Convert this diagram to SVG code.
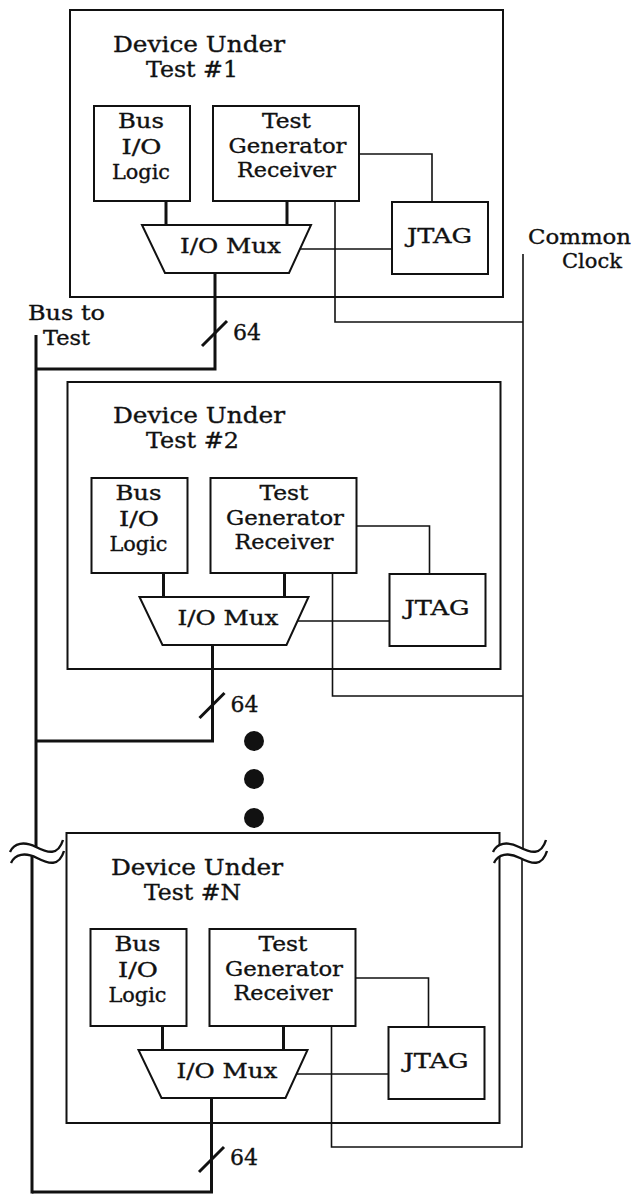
<svg xmlns="http://www.w3.org/2000/svg" width="633" height="1195" viewBox="0 0 633 1195">
<style>
.box{fill:none;stroke:#111;stroke-width:2}
.mux{fill:#fff;stroke:#111;stroke-width:2}
.thin{fill:none;stroke:#111;stroke-width:1.6}
.thick{fill:none;stroke:#111;stroke-width:3}
.wave{fill:none;stroke:#111;stroke-width:2.4}
.gap{fill:#fff;stroke:none}
text{font-family:"DejaVu Serif","Liberation Serif",serif;fill:#111;stroke:#111;stroke-width:0.35}
.ttl{font-size:21.5px}
.lb{font-size:20px}
.out{font-size:20.5px}
.n{font-size:22px}
</style>
<rect width="633" height="1195" fill="#fff"/>

<!-- DUT 1 -->
<g id="dut1">
<rect class="box" x="70" y="10" width="433" height="287"/>
<text class="ttl" x="113" y="52" textLength="172" lengthAdjust="spacingAndGlyphs">Device Under</text>
<text class="ttl" x="146" y="77" textLength="92" lengthAdjust="spacingAndGlyphs">Test #1</text>
<g id="dut1-bus">
<rect class="box" x="94" y="106" width="96" height="95"/>
<text class="lb" x="118" y="128" textLength="46" lengthAdjust="spacingAndGlyphs">Bus</text>
<text class="lb" x="121.5" y="154" textLength="40" lengthAdjust="spacingAndGlyphs">I/O</text>
<text class="lb" x="112" y="179" textLength="58" lengthAdjust="spacingAndGlyphs">Logic</text>
</g>
<g id="dut1-tg">
<rect class="box" x="213" y="106" width="146" height="95"/>
<text class="lb" x="262" y="128" textLength="49" lengthAdjust="spacingAndGlyphs">Test</text>
<text class="lb" x="228.5" y="153" textLength="118" lengthAdjust="spacingAndGlyphs">Generator</text>
<text class="lb" x="237" y="177" textLength="99" lengthAdjust="spacingAndGlyphs">Receiver</text>
</g>
<g id="dut1-jtag">
<rect class="box" x="392" y="202" width="96" height="72"/>
<text class="lb" x="407" y="243" textLength="65" lengthAdjust="spacingAndGlyphs">JTAG</text>
</g>
<g id="dut1-mux">
<polygon class="mux" points="142,225 311,225 289,273 165,273"/>
<text class="lb" x="180" y="253" textLength="101" lengthAdjust="spacingAndGlyphs">I/O Mux</text>
</g>
</g>

<!-- DUT 2 -->
<g id="dut2" transform="translate(-2.5,372)">
<rect class="box" x="70" y="10" width="433" height="287"/>
<text class="ttl" x="115.5" y="51" textLength="172" lengthAdjust="spacingAndGlyphs">Device Under</text>
<text class="ttl" x="148.5" y="76" textLength="93" lengthAdjust="spacingAndGlyphs">Test #2</text>
<g id="dut2-bus">
<rect class="box" x="94" y="106" width="96" height="95"/>
<text class="lb" x="118" y="128" textLength="46" lengthAdjust="spacingAndGlyphs">Bus</text>
<text class="lb" x="121.5" y="154" textLength="40" lengthAdjust="spacingAndGlyphs">I/O</text>
<text class="lb" x="112" y="179" textLength="58" lengthAdjust="spacingAndGlyphs">Logic</text>
</g>
<g id="dut2-tg">
<rect class="box" x="213" y="106" width="146" height="95"/>
<text class="lb" x="262" y="128" textLength="49" lengthAdjust="spacingAndGlyphs">Test</text>
<text class="lb" x="228.5" y="153" textLength="118" lengthAdjust="spacingAndGlyphs">Generator</text>
<text class="lb" x="237" y="177" textLength="99" lengthAdjust="spacingAndGlyphs">Receiver</text>
</g>
<g id="dut2-jtag">
<rect class="box" x="392" y="202" width="96" height="72"/>
<text class="lb" x="407" y="243" textLength="65" lengthAdjust="spacingAndGlyphs">JTAG</text>
</g>
<g id="dut2-mux">
<polygon class="mux" points="142,225 311,225 289,273 165,273"/>
<text class="lb" x="180" y="253" textLength="101" lengthAdjust="spacingAndGlyphs">I/O Mux</text>
</g>
</g>

<!-- DUT N -->
<g id="dutN" transform="translate(-3.5,823)">
<rect class="box" x="70" y="10" width="433" height="290"/>
<text class="ttl" x="114.5" y="52" textLength="172" lengthAdjust="spacingAndGlyphs">Device Under</text>
<text class="ttl" x="147.5" y="77" textLength="97" lengthAdjust="spacingAndGlyphs">Test #N</text>
<g id="dutN-bus">
<rect class="box" x="94" y="106" width="96" height="97"/>
<text class="lb" x="118" y="128" textLength="46" lengthAdjust="spacingAndGlyphs">Bus</text>
<text class="lb" x="121.5" y="154" textLength="40" lengthAdjust="spacingAndGlyphs">I/O</text>
<text class="lb" x="112" y="179" textLength="58" lengthAdjust="spacingAndGlyphs">Logic</text>
</g>
<g id="dutN-tg">
<rect class="box" x="213" y="106" width="146" height="97"/>
<text class="lb" x="262" y="128" textLength="49" lengthAdjust="spacingAndGlyphs">Test</text>
<text class="lb" x="228.5" y="153" textLength="118" lengthAdjust="spacingAndGlyphs">Generator</text>
<text class="lb" x="237" y="177" textLength="99" lengthAdjust="spacingAndGlyphs">Receiver</text>
</g>
<g id="dutN-jtag">
<rect class="box" x="392" y="204" width="96" height="72"/>
<text class="lb" x="407" y="245" textLength="65" lengthAdjust="spacingAndGlyphs">JTAG</text>
</g>
<g id="dutN-mux">
<polygon class="mux" points="142,227 311,227 289,275 165,275"/>
<text class="lb" x="180" y="255" textLength="101" lengthAdjust="spacingAndGlyphs">I/O Mux</text>
</g>
</g>

<!-- labels -->
<g id="bus-label">
<text class="out" x="28" y="320" textLength="77" lengthAdjust="spacingAndGlyphs">Bus to</text>
<text class="out" x="43" y="345" textLength="47" lengthAdjust="spacingAndGlyphs">Test</text>
</g>
<g id="clock-label">
<text class="out" x="528" y="244" textLength="103" lengthAdjust="spacingAndGlyphs">Common</text>
<text class="out" x="562" y="268" textLength="60" lengthAdjust="spacingAndGlyphs">Clock</text>
</g>

<g id="connectors">
<!-- DUT1 -->
<line class="thick" x1="166" y1="201" x2="166" y2="225"/>
<line class="thick" x1="287" y1="201" x2="287" y2="225"/>
<polyline class="thin" points="359,154 432,154 432,202"/>
<line class="thin" x1="300" y1="249" x2="392" y2="249"/>
<polyline class="thin" points="335,201 335,322 523,322"/>
<polyline class="thick" points="215,273 215,369 36,369"/>
<line class="thick" x1="202" y1="346" x2="227" y2="321"/>
<text class="n" x="233" y="340">64</text>
<!-- DUT2 -->
<line class="thick" x1="163.5" y1="573" x2="163.5" y2="597"/>
<line class="thick" x1="284.5" y1="573" x2="284.5" y2="597"/>
<polyline class="thin" points="356.5,526 429.5,526 429.5,574"/>
<line class="thin" x1="297.5" y1="621" x2="389.5" y2="621"/>
<polyline class="thin" points="332.5,573 332.5,696 523,696"/>
<polyline class="thick" points="212.5,645 212.5,741 36,741"/>
<line class="thick" x1="199.5" y1="718" x2="224.5" y2="693"/>
<text class="n" x="230.5" y="712">64</text>
<!-- DUT N -->
<line class="thick" x1="162.5" y1="1026" x2="162.5" y2="1050"/>
<line class="thick" x1="283.5" y1="1026" x2="283.5" y2="1050"/>
<polyline class="thin" points="355.5,978 428.5,978 428.5,1027"/>
<line class="thin" x1="296.5" y1="1074" x2="388.5" y2="1074"/>
<polyline class="thin" points="331.5,1026 331.5,1147 522,1147"/>
<polyline class="thick" points="211.5,1098 211.5,1192 32,1192"/>
<line class="thick" x1="199" y1="1172" x2="224" y2="1147"/>
<text class="n" x="230" y="1165">64</text>
<!-- bus and clock trunks -->
<line class="thick" x1="36" y1="335" x2="36" y2="850"/>
<line class="thick" x1="32" y1="852" x2="32" y2="1193.5"/>
<line class="thin" x1="523" y1="254" x2="523" y2="850"/>
<line class="thin" x1="522" y1="852" x2="522" y2="1147.8"/>
<!-- break marks -->
<path class="gap" d="M10 852 C14 843,24 841,36 847 S58 856,63 840 L64 851 C59 867,49 864,37 858 C25 852,15 854,11 863 Z"/>
<path class="wave" d="M10 852 C14 843,24 841,36 847 S58 856,63 840"/>
<path class="wave" d="M11 863 C15 854,25 852,37 858 S59 867,64 851"/>
<path class="gap" d="M493 852 C497 843,507 841,519 847 S541 856,546 840 L547 851 C542 867,532 864,520 858 C508 852,498 854,494 863 Z"/>
<path class="wave" d="M493 852 C497 843,507 841,519 847 S541 856,546 840"/>
<path class="wave" d="M494 863 C498 854,508 852,520 858 S542 867,547 851"/>
</g>

<g id="ellipsis">
<circle cx="254" cy="741" r="10" fill="#111"/>
<circle cx="254" cy="779" r="10" fill="#111"/>
<circle cx="254" cy="818" r="10" fill="#111"/>
</g>
</svg>
